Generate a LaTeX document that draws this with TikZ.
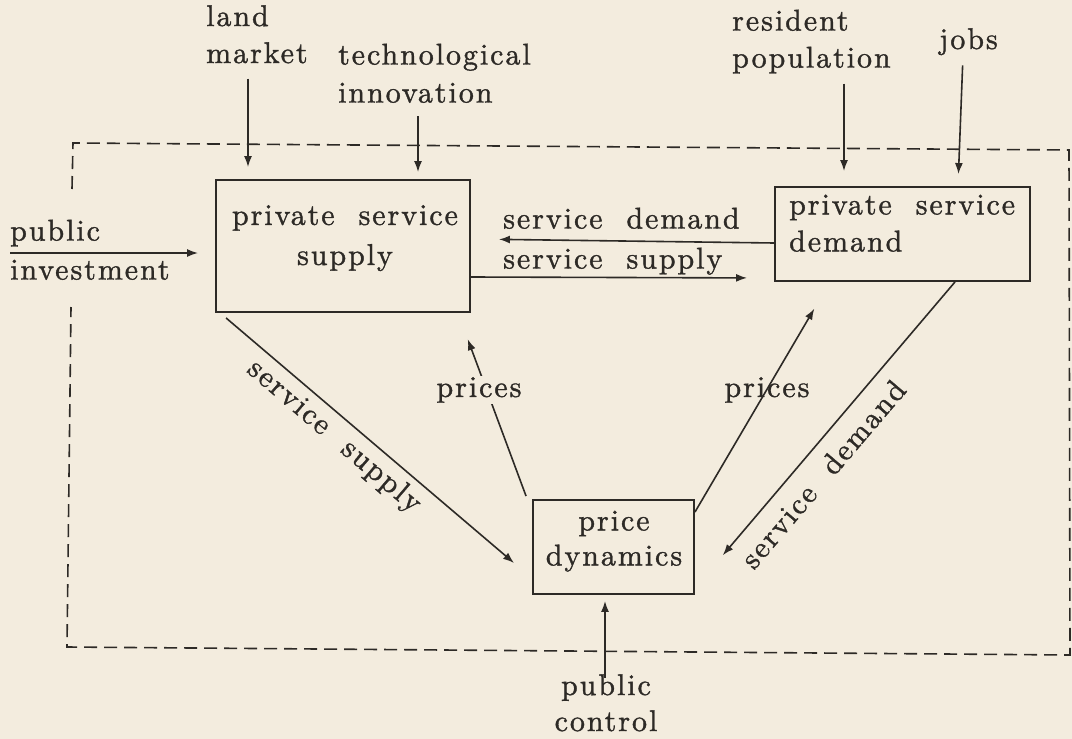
\documentclass[tikz,border=0pt]{standalone}
\usepackage{fontspec}
\usetikzlibrary{arrows.meta}
\newfontfamily\typo{lmroman10-regular}[Extension=.otf,LetterSpace=6.5,WordSpace=2,FakeBold=1.2]
\definecolor{paper}{RGB}{243,236,222}
\definecolor{ink}{RGB}{45,42,38}
\tikzset{
  lbl/.style={inner sep=0pt, font=\typo\fontsize{30}{37}\selectfont, text=ink},
  box/.style={draw=ink, line width=1.9pt, inner sep=0pt},
  arr/.style={draw=ink, line width=1.6pt, -{Latex[length=11pt,width=8pt]}},
  frame/.style={draw=ink, line width=1.6pt, dash pattern=on 13pt off 7pt},
}
\begin{document}
\begin{tikzpicture}[x=1pt,y=-1pt]
\fill[paper] (0,0) rectangle (1072,739);
\useasboundingbox (0,0) rectangle (1072,739);

% frame
\draw[frame] (72,189) -- (73,143) -- (1069,150) -- (1070,655) -- (67,647) -- (71,307);

% boxes
\node[box, minimum width=254pt, minimum height=132pt] (pss) at (343,246) {};
\node[box, minimum width=255pt, minimum height=94pt] (psd) at (902.5,234) {};
\node[box, minimum width=161pt, minimum height=94pt] (pd) at (613.5,547) {};

% box texts
\node[lbl, align=center, anchor=north] (pssT) at (345,205) {private service\\[3pt]supply};
\node[lbl, align=left, anchor=north west] (psdT) at (789,194.5) {private service\\demand};
\node[lbl, align=center, anchor=north] (pdT) at (614,510.5) {price\\[-2pt]dynamics};

% outside inputs
\node[lbl, align=left, anchor=north west] (lm) at (206,5) {land\\market};
\node[lbl, align=left, anchor=north west] (ti) at (338,43.5) {technological\\[1pt]innovation};
\node[lbl, align=left, anchor=north west] (rp) at (732,9.5) {resident\\population};
\node[lbl, anchor=base] (jobs) at (968.5,49) {jobs};
\node[lbl, align=left, anchor=north west] (pi) at (10,219.5) {public\\[2pt]investment};
\node[lbl, align=center, anchor=north] (pc) at (606,674) {public\\[-1pt]control};

% connectors
\draw[arr, shorten <=15pt, shorten >=12pt] (248,0 |- lm.south) -- (248,0 |- pss.north);
\draw[arr, shorten <=13pt, shorten >=7pt] (418,0 |- ti.south) -- (418,0 |- pss.north);
\draw[arr, shorten <=10pt, shorten >=15pt] (844,0 |- rp.south) -- (844,0 |- psd.north);
\draw[arr, shorten <=10pt, shorten >=12pt] (963,0 |- jobs.south) -- (958,0 |- psd.north);
\draw[arr, shorten >=17pt] (pi.west |- 0,253) -- (pss.west |- 0,253);
\draw[arr, shorten >=28pt] (psd.west |- 0,243) -- (pss.east |- 0,239);
\draw[arr, shorten >=27pt] (pss.east |- 0,277) -- (psd.west |- 0,278);
\draw[arr] ([shift={(11pt,-5pt)}]pss.south west) -- ([shift={(-18pt,-16pt)}]pd.west);
\draw[arr, shorten >=28pt] ([shift={(-6pt,3pt)}]pd.north west) -- (458,0 |- pss.south);
\draw[arr, shorten >=31pt] ([yshift=-13pt]pd.north east) -- (830,0 |- psd.south);
\draw[arr, shorten >=43pt] (955,0 |- psd.south) -- ([yshift=-41pt]pd.east);
\draw[arr, shorten <=-4pt, shorten >=6pt] (605,0 |- pc.north) -- (605,0 |- pd.south);

% connector labels
\node[lbl, anchor=base west] (sdL) at (503,228.5) {service demand};
\node[lbl, anchor=base west] (ssL) at (503,268.5) {service supply};
\node[lbl, rotate=-40.5] (ssD) at (334,437) {service supply};
\node[lbl, rotate=49.5] (sdD) at (823,474) {service demand};
\node[lbl, fill=paper, inner sep=1.5pt] (prL) at (479,390) {prices};
\node[lbl] (prR) at (767,390) {prices};
\end{tikzpicture}
\end{document}
